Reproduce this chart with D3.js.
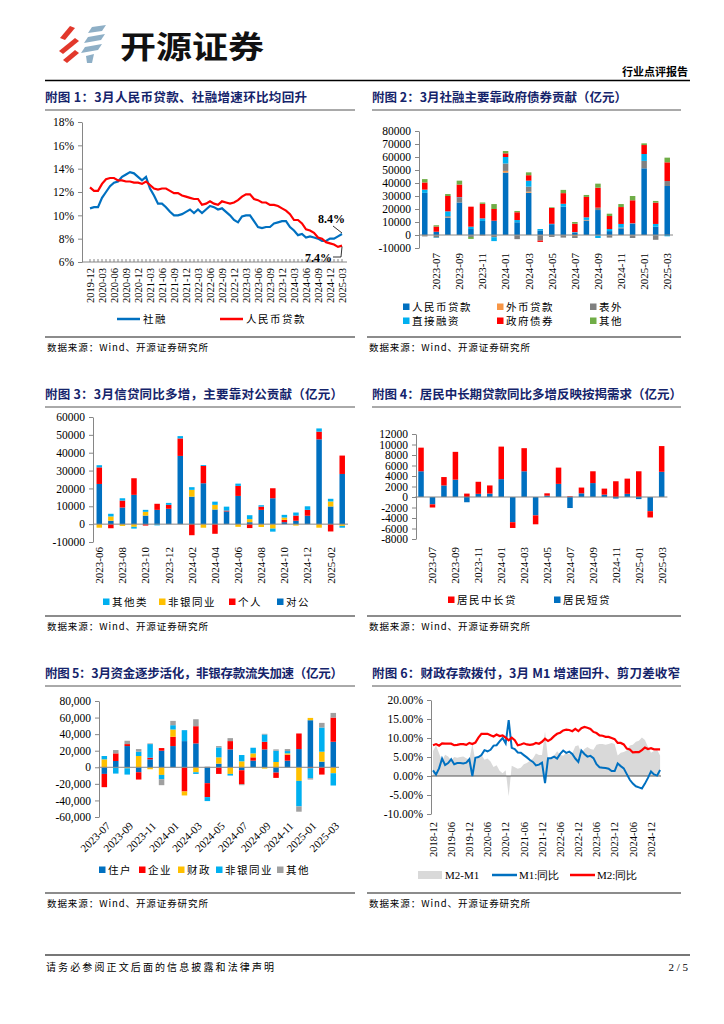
<!DOCTYPE html>
<html><head><meta charset="utf-8">
<script src="https://cdn.jsdelivr.net/npm/d3@7"></script>
<style>body{margin:0;background:#fff}svg{display:block}</style>
</head><body>
<svg id="page" width="724" height="1024"></svg>
<script>
// ---------------- DATA ----------------
// Chart 1: monthly 2019-12 .. 2025-03
const c1TickLabels = ["2019-12","2020-03","2020-06","2020-09","2020-12","2021-03","2021-06","2021-09","2021-12","2022-03","2022-06","2022-09","2022-12","2023-03","2023-06","2023-09","2023-12","2024-03","2024-06","2024-09","2024-12","2025-03"];
const c1Tsf = [10.6,10.7,10.7,11.5,12.0,12.5,12.8,12.9,13.3,13.5,13.7,13.6,13.3,13.0,13.3,12.3,11.7,11.0,11.0,10.7,10.3,10.0,10.0,10.1,10.3,10.5,10.2,10.5,10.2,10.5,10.8,10.7,10.5,10.6,10.3,10.0,9.6,9.4,9.9,10.0,10.0,9.5,9.0,8.9,9.0,9.0,9.3,9.4,9.5,9.5,9.0,8.7,8.3,8.4,8.1,8.2,8.1,8.0,7.8,7.8,8.0,8.0,8.2,8.4];
const c1Loan = [12.4,12.1,12.1,12.7,13.1,13.2,13.2,13.0,13.0,12.9,12.9,12.8,12.8,12.7,12.9,12.6,12.3,12.2,12.3,12.3,12.1,11.9,11.9,11.7,11.6,11.5,11.4,11.4,10.9,11.0,11.2,11.0,10.9,11.2,11.1,11.0,11.1,11.3,11.6,11.8,11.8,11.4,11.3,11.1,11.1,10.9,10.9,10.8,10.6,10.4,10.1,9.6,9.6,9.3,8.8,8.7,8.5,8.1,8.0,7.7,7.6,7.5,7.3,7.4];
const c1YTicks = [6,8,10,12,14,16,18];

// Chart 2..4: 2023-06 .. 2025-03
const months22 = ["2023-06","2023-07","2023-08","2023-09","2023-10","2023-11","2023-12","2024-01","2024-02","2024-03","2024-04","2024-05","2024-06","2024-07","2024-08","2024-09","2024-10","2024-11","2024-12","2025-01","2025-02","2025-03"];
const c2Loans  = [32400,2500,13300,25000,4600,10800,11000,48000,9800,32500,3500,8300,21800,1800,10800,19200,3000,5100,8700,51300,6400,37700];
const c2Fx     = [-300,-200,300,0,-200,-200,-200,1300,-200,800,-300,-200,-200,-800,300,-300,-200,-100,-300,0,-200,0];
const c2OffBal = [-800,-1800,900,3500,-1300,-300,-1500,5700,-3000,3900,-4000,-1300,-1800,-1500,500,1800,-1800,600,-2000,5700,-3500,3800];
const c2Direct = [2500,-300,3700,500,1800,2000,-3000,5000,1700,4600,1100,300,2200,400,2000,-2000,1600,2800,300,5300,2100,-1000];
const c2Govt   = [5500,4000,11800,9800,15400,11200,9000,2800,6000,4200,-1000,12200,8200,6500,15700,15400,10000,13000,17700,6900,16400,14400];
const c2Other  = [2600,1000,1500,3000,-1500,1000,3800,1800,1000,2200,0,500,2500,1300,1500,3100,1800,2300,3300,1300,1300,3600];
const c2Labels = ["2023-07","2023-09","2023-11","2024-01","2024-03","2024-05","2024-07","2024-09","2024-11","2025-01","2025-03"];
const c2YTicks = [-10000,0,10000,20000,30000,40000,50000,60000,70000,80000];

const c3Corp  = [22500,1900,9300,16400,4800,8000,8600,38200,15400,22900,8200,7100,15800,1100,8000,14500,1100,1900,4700,47500,9900,28100];
const c3Hh    = [9300,-2300,3900,9300,-800,3400,2200,9800,-6200,9700,-5400,500,5600,-2200,1800,5600,1300,2900,3300,4300,-4100,10300];
const c3Nbfi  = [-2000,2400,-1000,-1500,2100,0,0,0,3800,-2000,2600,0,-1500,1700,-1600,-2500,1300,-800,0,-2000,2800,-1000];
const c3Other = [1200,1500,1300,-1000,1100,-700,1100,1300,1500,500,1800,2200,1300,2200,800,-1700,1500,1700,2000,1800,1500,-1000];
const c3Labels = ["2023-06","2023-08","2023-10","2023-12","2024-02","2024-04","2024-06","2024-08","2024-10","2024-12","2025-02"];
const c3YTicks = [-10000,0,10000,20000,30000,40000,50000,60000];

const c4Short = [4900,-1400,2200,3300,-1000,600,650,3400,-4800,4900,-3500,250,2500,-2100,700,2650,450,-300,600,-400,-2700,4800];
const c4Long  = [4500,-600,1600,5300,650,2300,1550,6200,-1100,4400,-1700,450,3100,130,1100,2250,1150,3000,2900,4900,-1200,4900];
const c4Labels = ["2023-07","2023-09","2023-11","2024-01","2024-03","2024-05","2024-07","2024-09","2024-11","2025-01","2025-03"];
const c4YTicks = [-8000,-6000,-4000,-2000,0,2000,4000,6000,8000,10000,12000];

// Chart 5: 2023-07 .. 2025-03
const months21 = ["2023-07","2023-08","2023-09","2023-10","2023-11","2023-12","2024-01","2024-02","2024-03","2024-04","2024-05","2024-06","2024-07","2024-08","2024-09","2024-10","2024-11","2024-12","2025-01","2025-02","2025-03"];
const c5Hh     = [-8000,7600,25600,-6000,9600,20000,25600,31600,28800,-19200,4400,21600,-3600,8000,21600,-6400,8000,22000,56800,6800,30800];
const c5Corp   = [-16000,9200,2400,-8800,2000,3200,11200,-29200,20800,-16800,-8000,10000,-16800,4000,9200,-6400,7200,18800,-1200,-8800,29200];
const c5Fiscal = [9600,0,-1200,13600,-2400,-9200,8800,-4800,-6000,0,7600,-8000,7200,4800,-1600,6400,1600,-16400,2800,12000,-7200];
const c5Nbfi   = [4000,-7600,-7600,5200,16400,-5200,5200,13200,-2000,-4800,12000,-2000,7600,6800,8800,13600,2800,-30800,-12000,29200,-14800];
const c5Other  = [0,4000,4000,3200,800,-7200,5200,0,8400,800,1600,3600,-1200,0,800,1600,2400,-6400,-1600,5600,5600];
const c5Labels = ["2023-07","2023-09","2023-11","2024-01","2024-03","2024-05","2024-07","2024-09","2024-11","2025-01","2025-03"];
const c5YTicks = [-60000,-40000,-20000,0,20000,40000,60000,80000];

// Chart 6: monthly 2018-12 .. 2025-03
const c6TickLabels = ["2018-12","2019-06","2019-12","2020-06","2020-12","2021-06","2021-12","2022-06","2022-12","2023-06","2023-12","2024-06","2024-12"];
const c6M1 = [1.5,0.4,2.0,4.6,2.9,3.4,4.4,3.1,3.4,3.4,3.3,3.5,4.4,0.0,4.8,5.0,5.5,6.8,6.5,6.9,8.0,8.1,9.1,10.0,8.6,14.7,7.4,7.1,6.2,6.1,5.5,4.9,4.2,3.7,2.8,3.0,3.5,-1.9,4.7,4.7,5.1,4.6,5.8,6.7,6.1,6.4,5.8,4.6,3.7,6.7,5.8,5.1,5.3,4.7,3.1,2.3,2.2,2.1,1.9,1.3,1.3,3.3,2.6,2.0,0.5,-1.0,-2.0,-2.7,-3.0,-3.3,-2.0,-0.5,1.2,0.4,0.1,1.6];
const c6M2 = [8.1,8.4,8.0,8.6,8.5,8.5,8.5,8.1,8.2,8.4,8.4,8.2,8.7,8.4,8.8,10.1,11.1,11.1,11.1,10.7,10.4,10.9,10.5,10.7,10.1,9.4,10.1,9.4,8.1,8.3,8.6,8.3,8.2,8.3,8.7,8.5,9.0,9.8,9.2,9.7,10.5,11.1,11.4,12.0,12.2,12.1,11.8,12.4,11.8,12.6,12.9,12.7,12.4,11.6,11.3,10.7,10.6,10.3,10.3,10.0,9.7,8.7,8.7,8.3,7.2,7.0,6.2,6.3,6.3,6.8,7.5,7.1,7.3,7.0,7.0,7.0];
const c6Gap = [6.6,8.0,6.0,4.0,5.6,5.1,4.1,5.0,4.8,5.0,5.1,4.7,4.3,8.4,4.0,5.1,5.6,4.3,4.6,3.8,2.4,2.8,1.4,0.7,1.5,-5.3,2.7,2.3,1.9,2.2,3.1,3.4,4.0,4.6,5.9,5.5,5.5,11.7,4.5,5.0,5.4,6.5,5.6,5.3,6.1,5.7,6.0,7.8,8.1,5.9,7.1,7.6,7.1,6.9,8.2,8.4,8.4,8.2,8.4,8.7,8.4,5.4,6.1,6.3,6.7,8.0,8.2,9.0,9.3,10.1,9.5,7.6,6.1,6.6,6.9,5.4];
const c6YTicks = [-10,-5,0,5,10,15,20];

// ---------------- STYLE ----------------
const SERIF = "'Liberation Serif','Times New Roman',serif";
const CJK = "'Noto Sans CJK SC','Noto Sans CJK JP',sans-serif";
const NAVY = "#15246B";
const COL = {blue:"#0070C0", lblue:"#00B0F0", red:"#FF0000", gold:"#FFC000", gray:"#808080", orange:"#F79646", green:"#70AD47", gray5:"#A0A0A0", area:"#D9D9D9", axis:"#868686"};

const svg = d3.select("#page");

// ---------------- HEADER / FOOTER ----------------
const logo = svg.append("g");
const redPolys = [[[70,26],[75,28],[65,40],[60,38]],[[75,38],[79,41],[63,54],[59,51]],[[75,50],[79,53],[67,63],[63,60]]];
const bluePolys = [[[92,27],[106,25],[102,31],[88,33]],[[88,37],[105,34],[101,40],[84,43]],[[85,47],[102,44],[98,50],[81,53]],[[86,56],[94,54],[92,63],[87,63]]];
redPolys.forEach(p=>logo.append("polygon").attr("points",p.map(d=>d.join(",")).join(" ")).attr("fill","#E2382B"));
bluePolys.forEach(p=>logo.append("polygon").attr("points",p.map(d=>d.join(",")).join(" ")).attr("fill","#8EAFC6"));
svg.append("text").attr("x",120).attr("y",58).attr("font-family",CJK).attr("font-weight",700).attr("font-size",31)
  .attr("textLength",144).attr("lengthAdjust","spacingAndGlyphs").attr("fill","#111").text("开源证券");
svg.append("text").attr("x",688).attr("y",76).attr("text-anchor","end").attr("font-family",CJK).attr("font-weight",700)
  .attr("font-size",11).attr("fill","#000").text("行业点评报告");
svg.append("line").attr("x1",45).attr("x2",690).attr("y1",80.5).attr("y2",80.5).attr("stroke","#000").attr("stroke-width",1.5);

svg.append("line").attr("x1",45).attr("x2",690).attr("y1",955).attr("y2",955).attr("stroke","#777").attr("stroke-width",2);
svg.append("text").attr("x",46).attr("y",971).attr("font-family",CJK).attr("font-size",10).attr("fill","#000")
  .attr("textLength",228).attr("lengthAdjust","spacing").text("请务必参阅正文后面的信息披露和法律声明");
svg.append("text").attr("x",688).attr("y",971).attr("text-anchor","end").attr("font-family",SERIF).attr("font-size",11).text("2 / 5");

// ---------------- HELPERS ----------------
function panelTitle(x0, x1, y, text, len) {
  svg.append("text").attr("x",x0).attr("y",y).attr("font-family",CJK).attr("font-weight",700).attr("font-size",12.5)
    .attr("fill",NAVY).attr("textLength",len).attr("lengthAdjust","spacing").text(text);
  svg.append("line").attr("x1",x0).attr("x2",x1).attr("y1",y+8).attr("y2",y+8).attr("stroke","#555").attr("stroke-width",1);
}
function panelSource(x0, x1, y) {
  svg.append("line").attr("x1",x0).attr("x2",x1).attr("y1",y).attr("y2",y).attr("stroke","#8C8C8C").attr("stroke-width",2);
  svg.append("text").attr("x",x0+2).attr("y",y+14).attr("font-family",CJK).attr("font-size",9.5).attr("fill","#000")
    .attr("textLength",161).attr("lengthAdjust","spacing").text("数据来源：Wind、开源证券研究所");
}
function yAxis(x, y, ticks, fmt) {
  const g = svg.append("g").attr("transform",`translate(${x},0)`)
    .call(d3.axisLeft(y).tickValues(ticks).tickFormat(fmt).tickSize(4).tickSizeOuter(0).tickPadding(4));
  g.select(".domain").attr("stroke",COL.axis);
  g.selectAll(".tick line").attr("stroke",COL.axis);
  g.selectAll(".tick text").attr("font-family",SERIF).attr("font-size",11.5).attr("fill","#000");
  return g;
}
function vLabels(list, xf, yTop, fs) {
  list.forEach(l=>{
    svg.append("text").attr("transform",`translate(${xf(l)},${yTop}) rotate(-90)`).attr("text-anchor","end")
      .attr("dy","0.35em").attr("font-family",SERIF).attr("font-size",fs).attr("fill","#000").text(l);
  });
}
function legendSq(x, y, color, label) {
  svg.append("rect").attr("x",x).attr("y",y-3.5).attr("width",6.5).attr("height",6.5).attr("fill",color);
  svg.append("text").attr("x",x+9).attr("y",y).attr("dy","0.35em").attr("font-family",CJK).attr("font-size",10.5)
    .attr("letter-spacing",1.5).attr("fill","#000").text(label);
}
function stackedBars(months, seriesList, colors, xRange, yScale, barW) {
  const keys = seriesList.map((s,i)=>"k"+i);
  const rows = months.map((m,i)=>{const r={m}; seriesList.forEach((s,j)=>r["k"+j]=s[i]); return r;});
  const st = d3.stack().keys(keys).offset(d3.stackOffsetDiverging)(rows);
  const x = d3.scaleBand().domain(months).range(xRange);
  const g = svg.append("g");
  st.forEach((layer,j)=>{
    g.selectAll(null).data(layer).enter().append("rect")
      .attr("x",d=>x(d.data.m)+x.bandwidth()/2-barW/2).attr("width",barW)
      .attr("y",d=>yScale(Math.max(d[0],d[1]))).attr("height",d=>Math.abs(yScale(d[0])-yScale(d[1])))
      .attr("fill",colors[j]);
  });
  svg.append("line").attr("x1",xRange[0]).attr("x2",xRange[1]).attr("y1",yScale(0)).attr("y2",yScale(0)).attr("stroke",COL.axis);
  return m=>x(m)+x.bandwidth()/2;
}

// ---------------- CHART 1 ----------------
panelTitle(45,355,102,"附图 1：3月人民币贷款、社融增速环比均回升",262);
{
  const x = d3.scaleLinear().domain([0,c1Tsf.length-1]).range([90,342]);
  const y = d3.scaleLinear().domain([6,18]).range([262,122]);
  yAxis(82, y, c1YTicks, d=>d+"%");
  svg.append("line").attr("x1",82).attr("x2",347).attr("y1",262).attr("y2",262).attr("stroke",COL.axis);
  c1Loan.forEach((d,i)=>svg.append("line").attr("x1",x(i)).attr("x2",x(i)).attr("y1",262).attr("y2",259).attr("stroke",COL.axis));
  const line = d3.line().x((d,i)=>x(i)).y(d=>y(d));
  svg.append("path").datum(c1Tsf).attr("d",line).attr("fill","none").attr("stroke",COL.blue).attr("stroke-width",2.2);
  svg.append("path").datum(c1Loan).attr("d",line).attr("fill","none").attr("stroke",COL.red).attr("stroke-width",2.2);
  vLabels(c1TickLabels, l=>x(c1TickLabels.indexOf(l)*3), 268, 10.5);
  const n = c1Tsf.length-1;
  svg.append("text").attr("x",318).attr("y",223).attr("font-family",SERIF).attr("font-weight",700).attr("font-size",12).text(c1Tsf[n].toFixed(1)+"%");
  svg.append("line").attr("x1",333).attr("y1",226).attr("x2",x(n)).attr("y2",y(c1Tsf[n])-1).attr("stroke","#000").attr("stroke-width",0.8);
  svg.append("text").attr("x",305).attr("y",262).attr("font-family",SERIF).attr("font-weight",700).attr("font-size",12).text(c1Loan[n].toFixed(1)+"%");
  svg.append("polyline").attr("points",`333,257 341,257 ${x(n)},${y(c1Loan[n])+1}`).attr("fill","none").attr("stroke","#000").attr("stroke-width",0.8);
  // legend
  svg.append("line").attr("x1",117).attr("x2",140).attr("y1",319).attr("y2",319).attr("stroke",COL.blue).attr("stroke-width",2.5);
  svg.append("text").attr("x",143).attr("y",319).attr("dy","0.35em").attr("font-family",CJK).attr("font-size",10.5).attr("letter-spacing",1.5).text("社融");
  svg.append("line").attr("x1",220).attr("x2",243).attr("y1",319).attr("y2",319).attr("stroke",COL.red).attr("stroke-width",2.5);
  svg.append("text").attr("x",246).attr("y",319).attr("dy","0.35em").attr("font-family",CJK).attr("font-size",10.5).attr("letter-spacing",1.5).text("人民币贷款");
}
panelSource(45,355,337);

// ---------------- CHART 2 ----------------
panelTitle(372,681,102,"附图 2：3月社融主要靠政府债券贡献（亿元）",255);
{
  const y = d3.scaleLinear().domain([-10000,80000]).range([248,131]);
  yAxis(419, y, c2YTicks, d=>d);
  const xc = stackedBars(months22,[c2Loans,c2Fx,c2OffBal,c2Direct,c2Govt,c2Other],
    [COL.blue,COL.orange,COL.gray,COL.lblue,COL.red,COL.green],[419,673],y,5.5);
  vLabels(c2Labels, xc, 253, 11);
  legendSq(403,307,COL.blue,"人民币贷款"); legendSq(497,307,COL.orange,"外币贷款"); legendSq(590,307,COL.gray,"表外");
  legendSq(403,321,COL.lblue,"直接融资"); legendSq(497,321,COL.red,"政府债券"); legendSq(590,321,COL.green,"其他");
}
panelSource(367,681,337);

// ---------------- CHART 3 ----------------
panelTitle(45,355,399,"附图 3：3月信贷同比多增，主要靠对公贡献（亿元）",298);
{
  const y = d3.scaleLinear().domain([-10000,60000]).range([542,417]);
  yAxis(93, y, c3YTicks, d=>d);
  const xc = stackedBars(months22,[c3Corp,c3Hh,c3Nbfi,c3Other],[COL.blue,COL.red,COL.gold,COL.lblue],[93.5,348],y,5.5);
  vLabels(c3Labels, xc, 547, 11);
  legendSq(103,602,COL.lblue,"其他类"); legendSq(159,602,COL.gold,"非银同业"); legendSq(229,602,COL.red,"个人"); legendSq(277,602,COL.blue,"对公");
}
panelSource(45,355,616);

// ---------------- CHART 4 ----------------
panelTitle(372,681,399,"附图 4：居民中长期贷款同比多增反映按揭需求（亿元）",310);
{
  const y = d3.scaleLinear().domain([-8000,12000]).range([539,434]);
  yAxis(416, y, c4YTicks, d=>d);
  const xc = stackedBars(months22,[c4Short,c4Long],[COL.blue,COL.red],[415.3,667.4],y,5.5);
  vLabels(c4Labels, xc, 547, 11);
  legendSq(448,600,COL.red,"居民中长贷"); legendSq(554,600,COL.blue,"居民短贷");
}
panelSource(367,681,616);

// ---------------- CHART 5 ----------------
panelTitle(45,355,678,"附图 5：3月资金逐步活化，非银存款流失加速（亿元）",298);
{
  const y = d3.scaleLinear().domain([-60000,80000]).range([817,701]);
  const fmt = v=> v<0 ? "-"+d3.format(",")(-v) : d3.format(",")(v);
  yAxis(99, y, c5YTicks, fmt);
  const xc = stackedBars(months21,[c5Hh,c5Corp,c5Fiscal,c5Nbfi,c5Other],[COL.blue,COL.red,COL.gold,COL.lblue,COL.gray5],[98.6,339],y,5.5);
  c5Labels.forEach(l=>{
    svg.append("text").attr("transform",`translate(${xc(l)+4},${824}) rotate(-45)`).attr("text-anchor","end")
      .attr("dy","0.35em").attr("font-family",SERIF).attr("font-size",11).text(l);
  });
  legendSq(99,870,COL.blue,"住户"); legendSq(139,870,COL.red,"企业"); legendSq(178,870,COL.gold,"财政");
  legendSq(216,870,COL.lblue,"非银同业"); legendSq(277,870,COL.gray5,"其他");
}
panelSource(45,355,893);

// ---------------- CHART 6 ----------------
panelTitle(372,681,678,"附图 6：财政存款拨付，3月 M1 增速回升、剪刀差收窄",308);
{
  const x = d3.scaleLinear().domain([0,72]).range([433,651]);
  const y = d3.scaleLinear().domain([-10,20]).range([814,700]);
  svg.append("path").datum(c6Gap).attr("d",d3.area().x((d,i)=>x(i)).y0(y(0)).y1(d=>y(d))).attr("fill",COL.area);
  yAxis(431, y, c6YTicks, d=>d.toFixed(2)+"%");
  svg.append("line").attr("x1",431).attr("x2",661).attr("y1",y(0)).attr("y2",y(0)).attr("stroke","#555");
  const line = d3.line().x((d,i)=>x(i)).y(d=>y(d));
  svg.append("path").datum(c6M1).attr("d",line).attr("fill","none").attr("stroke",COL.blue).attr("stroke-width",2);
  svg.append("path").datum(c6M2).attr("d",line).attr("fill","none").attr("stroke",COL.red).attr("stroke-width",2.2);
  vLabels(c6TickLabels, l=>x(c6TickLabels.indexOf(l)*6), 822, 10.5);
  svg.append("rect").attr("x",418).attr("y",871).attr("width",24).attr("height",8).attr("fill",COL.area);
  svg.append("text").attr("x",445).attr("y",875).attr("dy","0.35em").attr("font-family",SERIF).attr("font-size",11).text("M2-M1");
  svg.append("line").attr("x1",492).attr("x2",517).attr("y1",875).attr("y2",875).attr("stroke",COL.blue).attr("stroke-width",2.5);
  svg.append("text").attr("x",519).attr("y",875).attr("dy","0.35em").attr("font-family",SERIF).attr("font-size",11).text("M1:同比");
  svg.append("line").attr("x1",570).attr("x2",595).attr("y1",875).attr("y2",875).attr("stroke",COL.red).attr("stroke-width",2.5);
  svg.append("text").attr("x",597).attr("y",875).attr("dy","0.35em").attr("font-family",SERIF).attr("font-size",11).text("M2:同比");
}
panelSource(367,681,893);
</script>
</body></html>
